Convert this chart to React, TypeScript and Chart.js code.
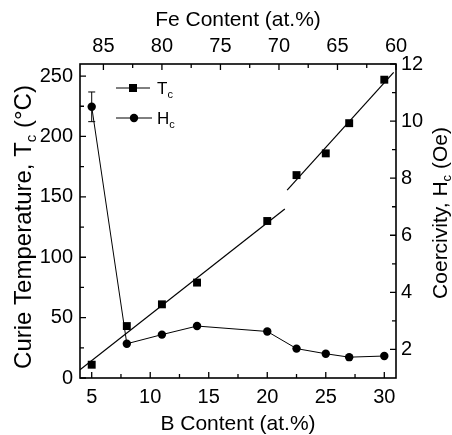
import React, { useEffect, useRef } from "react";
import { Chart, registerables } from "chart.js";

Chart.register(...registerables);

// ---------- data ----------
const bContent = [5, 8, 11, 14, 20, 22.5, 25, 27, 30];
const curieTemp = [11, 43, 61, 79, 130, 168, 186, 211, 247];
const coercivity = [10.5, 2.2, 2.52, 2.82, 2.63, 2.03, 1.85, 1.73, 1.77];
const coercivityErr = [0.52, 0, 0, 0, 0, 0, 0, 0, 0];

const fitLowB = [4, 21.5];
const fitLowT = [6.8, 140];
const fitHighB = [21.7, 30.8];
const fitHighT = [155.6, 253];

const bTicks = [5, 10, 15, 20, 25, 30];
const bMinor = [7.5, 12.5, 17.5, 22.5, 27.5];
const feTicks = [85, 80, 75, 70, 65, 60];
const feMinor = [82.5, 77.5, 72.5, 67.5, 62.5];
const tcTicks = [0, 50, 100, 150, 200, 250];
const tcMinor = [25, 75, 125, 175, 225];
const hcTicks = [2, 4, 6, 8, 10, 12];
const hcMinor = [3, 5, 7, 9, 11];

const FONT = '"Liberation Sans", Arial, Helvetica, sans-serif';
const TICK_SIZE = 20;
const TITLE_SIZE = 21;
const LEFT_TITLE_SIZE = 24;

type Part = { t: string; sub?: boolean };

function drawRich(
  ctx: CanvasRenderingContext2D,
  parts: Part[],
  size: number,
  x: number,
  baseline: number,
  align: "center" | "left"
) {
  const subSize = Math.round(size * 0.62);
  let total = 0;
  const widths: number[] = [];
  for (const p of parts) {
    ctx.font = `${p.sub ? subSize : size}px ${FONT}`;
    const w = ctx.measureText(p.t).width;
    widths.push(w);
    total += w;
  }
  let cx = align === "center" ? x - total / 2 : x;
  ctx.textAlign = "left";
  ctx.textBaseline = "alphabetic";
  parts.forEach((p, i) => {
    ctx.font = `${p.sub ? subSize : size}px ${FONT}`;
    ctx.fillText(p.t, cx, baseline + (p.sub ? size * 0.22 : 0));
    cx += widths[i];
  });
}

const decorPlugin = {
  id: "decor",
  afterDatasetsDraw(chart: any) {
    const ctx: CanvasRenderingContext2D = chart.ctx;
    const { left, right, top, bottom } = chart.chartArea;
    const sx = chart.scales.x;
    const sx2 = chart.scales.x2;
    const sy = chart.scales.y;
    const sy2 = chart.scales.y2;
    ctx.save();
    ctx.strokeStyle = "#000";
    ctx.fillStyle = "#000";

    // error bars
    ctx.lineWidth = 1;
    coercivityErr.forEach((e, i) => {
      if (!e) return;
      const px = sx.getPixelForValue(bContent[i]);
      const yTop = sy2.getPixelForValue(coercivity[i] + e);
      const yBot = sy2.getPixelForValue(coercivity[i] - e);
      ctx.beginPath();
      ctx.moveTo(px, yTop);
      ctx.lineTo(px, yBot);
      ctx.moveTo(px - 3.5, yTop);
      ctx.lineTo(px + 3.5, yTop);
      ctx.moveTo(px - 3.5, yBot);
      ctx.lineTo(px + 3.5, yBot);
      ctx.stroke();
    });

    // frame
    ctx.lineWidth = 1.6;
    ctx.strokeRect(left, top, right - left, bottom - top);

    // inward ticks
    ctx.lineWidth = 1.3;
    const MAJ = 6;
    const MIN = 4;
    ctx.beginPath();
    const vTick = (scale: any, vals: number[], len: number) => {
      vals.forEach((v) => {
        const p = scale.getPixelForValue(v);
        ctx.moveTo(p, bottom);
        ctx.lineTo(p, bottom - len);
      });
    };
    const vTickTop = (scale: any, vals: number[], len: number) => {
      vals.forEach((v) => {
        const p = scale.getPixelForValue(v);
        ctx.moveTo(p, top);
        ctx.lineTo(p, top + len);
      });
    };
    const hTickL = (scale: any, vals: number[], len: number) => {
      vals.forEach((v) => {
        const p = scale.getPixelForValue(v);
        ctx.moveTo(left, p);
        ctx.lineTo(left + len, p);
      });
    };
    const hTickR = (scale: any, vals: number[], len: number) => {
      vals.forEach((v) => {
        const p = scale.getPixelForValue(v);
        ctx.moveTo(right, p);
        ctx.lineTo(right - len, p);
      });
    };
    vTick(sx, bTicks, MAJ);
    vTick(sx, bMinor, MIN);
    vTickTop(sx2, feTicks, MAJ);
    vTickTop(sx2, feMinor, MIN);
    hTickL(sy, tcTicks, MAJ);
    hTickL(sy, tcMinor, MIN);
    hTickR(sy2, hcTicks, MAJ);
    hTickR(sy2, hcMinor, MIN);
    ctx.stroke();

    // legend
    const legX = left + 36;
    const legY1 = top + 24;
    const legY2 = top + 54;
    ctx.lineWidth = 1;
    ctx.beginPath();
    ctx.moveTo(legX, legY1);
    ctx.lineTo(legX + 34, legY1);
    ctx.moveTo(legX, legY2);
    ctx.lineTo(legX + 36, legY2);
    ctx.stroke();
    ctx.fillRect(legX + 17 - 4, legY1 - 4, 8, 8);
    ctx.beginPath();
    ctx.arc(legX + 18, legY2, 4.2, 0, Math.PI * 2);
    ctx.fill();
    drawRich(ctx, [{ t: "T" }, { t: "c", sub: true }], 17, legX + 41, legY1 + 6, "left");
    drawRich(ctx, [{ t: "H" }, { t: "c", sub: true }], 17, legX + 41, legY2 + 6, "left");

    // axis titles
    drawRich(ctx, [{ t: "Fe Content (at.%)" }], TITLE_SIZE, (left + right) / 2, 26, "center");
    drawRich(ctx, [{ t: "B Content (at.%)" }], TITLE_SIZE, (left + right) / 2, 430, "center");

    ctx.save();
    ctx.translate(22, (top + bottom) / 2 + 6);
    ctx.rotate(-Math.PI / 2);
    drawRich(
      ctx,
      [{ t: "Curie Temperature, T" }, { t: "c", sub: true }, { t: " (°C)" }],
      LEFT_TITLE_SIZE,
      0,
      LEFT_TITLE_SIZE * 0.36,
      "center"
    );
    ctx.restore();

    ctx.save();
    ctx.translate(439, (top + bottom) / 2 - 8);
    ctx.rotate(-Math.PI / 2);
    drawRich(
      ctx,
      [{ t: "Coercivity, H" }, { t: "c", sub: true }, { t: " (Oe)" }],
      TITLE_SIZE,
      0,
      TITLE_SIZE * 0.36,
      "center"
    );
    ctx.restore();

    ctx.restore();
  },
};

export default function App() {
  const ref = useRef<HTMLCanvasElement | null>(null);

  useEffect(() => {
    document.body.style.margin = "0";
    const canvas = ref.current;
    if (!canvas) return;

    const tickFont = { family: FONT, size: TICK_SIZE };
    const setTicks = (vals: number[]) => (scale: any) => {
      scale.ticks = vals.map((v) => ({ value: v }));
    };

    const chart = new Chart(canvas, {
      type: "scatter",
      data: {
        datasets: [
          {
            label: "fitLow",
            data: fitLowB.map((b, i) => ({ x: b, y: fitLowT[i] })),
            xAxisID: "x",
            yAxisID: "y",
            showLine: true,
            borderColor: "#000",
            borderWidth: 1.2,
            pointRadius: 0,
          },
          {
            label: "fitHigh",
            data: fitHighB.map((b, i) => ({ x: b, y: fitHighT[i] })),
            xAxisID: "x",
            yAxisID: "y",
            showLine: true,
            borderColor: "#000",
            borderWidth: 1.2,
            pointRadius: 0,
          },
          {
            label: "Tc",
            data: bContent.map((b, i) => ({ x: b, y: curieTemp[i] })),
            xAxisID: "x",
            yAxisID: "y",
            showLine: false,
            pointStyle: "rect",
            pointRadius: 5.6,
            pointBorderWidth: 0,
            backgroundColor: "#000",
            borderColor: "#000",
          },
          {
            label: "Hc",
            data: bContent.map((b, i) => ({ x: b, y: coercivity[i] })),
            xAxisID: "x",
            yAxisID: "y2",
            showLine: true,
            borderColor: "#000",
            borderWidth: 1,
            pointStyle: "circle",
            pointRadius: 4.2,
            pointBorderWidth: 0,
            backgroundColor: "#000",
          },
        ],
      },
      options: {
        responsive: false,
        animation: false,
        devicePixelRatio: 1,
        layout: { padding: 0 },
        plugins: {
          legend: { display: false },
          tooltip: { enabled: false },
        },
        scales: {
          x: {
            type: "linear",
            position: "bottom",
            min: 4,
            max: 31,
            afterBuildTicks: setTicks(bTicks),
            afterFit: (s: any) => {
              s.height = 57;
            },
            grid: { display: false, drawTicks: false },
            border: { display: false },
            ticks: { font: tickFont, color: "#000", padding: 7, maxRotation: 0 },
          },
          x2: {
            type: "linear",
            position: "top",
            min: 60,
            max: 87,
            reverse: true,
            afterBuildTicks: setTicks(feTicks),
            afterFit: (s: any) => {
              s.height = 64;
            },
            grid: { display: false, drawTicks: false },
            border: { display: false },
            ticks: { font: tickFont, color: "#000", padding: 6, maxRotation: 0 },
          },
          y: {
            type: "linear",
            position: "left",
            min: 0,
            max: 260,
            afterBuildTicks: setTicks(tcTicks),
            afterFit: (s: any) => {
              s.width = 80;
            },
            grid: { display: false, drawTicks: false },
            border: { display: false },
            ticks: { font: tickFont, color: "#000", padding: 7 },
          },
          y2: {
            type: "linear",
            position: "right",
            min: 1,
            max: 12,
            afterBuildTicks: setTicks(hcTicks),
            afterFit: (s: any) => {
              s.width = 56;
            },
            grid: { display: false, drawTicks: false },
            border: { display: false },
            ticks: { font: tickFont, color: "#000", padding: 5 },
          },
        },
      },
      plugins: [decorPlugin],
    } as any);

    return () => {
      chart.destroy();
    };
  }, []);

  return (
    <div style={{ width: 452, height: 435, background: "#fff" }}>
      <canvas ref={ref} width={452} height={435} style={{ display: "block" }} />
    </div>
  );
}
